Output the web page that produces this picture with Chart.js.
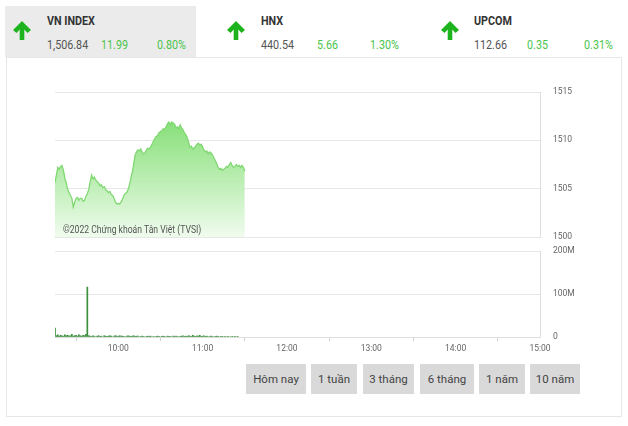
<!DOCTYPE html>
<html><head><meta charset="utf-8">
<script src="https://cdn.jsdelivr.net/npm/chart.js@4/dist/chart.umd.min.js"></script>
<style>
html,body{margin:0;padding:0;background:#fff;width:628px;height:426px;overflow:hidden;font-family:Roboto,sans-serif;}
.abs{position:absolute;}
.nar{transform:scaleX(0.86);transform-origin:0 0;white-space:nowrap;}
#tab{left:5px;top:6px;width:191px;height:51px;background:#ebebeb;}
.name{font-weight:bold;font-size:12.5px;color:#333;}
.val{font-size:12.5px;color:#555;}
.g{font-size:12.5px;color:#4cc44c;}
#panel{left:6px;top:57px;width:616px;height:360px;border:1px solid #e6e6e6;box-sizing:border-box;}
.btn{top:364px;height:30px;background:#d9d9d9;color:#444;font-size:11.5px;line-height:30px;text-align:center;}
#wm{left:63px;top:224px;font-size:10px;color:#555;}
</style></head><body>
<div id="tab" class="abs"></div>
<div id="panel" class="abs"></div>
<div id="hdr"></div>
<canvas id="c1" class="abs" style="left:55px;top:86px;width:545px;height:157px" width="545" height="157"></canvas>
<canvas id="c2" class="abs" style="left:55px;top:245px;width:545px;height:114px" width="545" height="114"></canvas>
<div id="wm" class="abs nar">©2022 Chứng khoán Tân Việt (TVSI)</div>
<div id="btns"></div>
<script>
// ---- data ----
const indexNames = ["VN INDEX", "HNX", "UPCOM"];
const indexValues = ["1,506.84", "440.54", "112.66"];
const indexChanges = ["11.99", "5.66", "0.35"];
const indexPercents = ["0.80%", "1.30%", "0.31%"];
const rangeButtons = ["Hôm nay", "1 tuần", "3 tháng", "6 tháng", "1 năm", "10 năm"];
const startMinute = 555; // 9:15
const priceValues = [
1505.6,1506.4,1507.2,1507.0,1507.3,1507.4,1506.9,1506.1,1505.6,1504.9,
1504.6,1504.3,1504.0,1503.1,1503.6,1504.0,1504.1,1503.8,1504.0,1504.0,
1503.7,1503.8,1504.2,1504.5,1504.9,1505.7,1506.4,1506.0,1506.2,1505.9,
1505.7,1505.6,1505.3,1505.4,1505.1,1505.2,1504.9,1504.8,1504.6,1504.7,
1504.4,1504.3,1504.0,1503.6,1503.4,1503.5,1503.4,1503.6,1503.9,1504.3,
1504.5,1504.6,1504.9,1505.4,1506.1,1506.7,1507.6,1508.5,1508.8,1509.0,
1508.9,1509.1,1508.8,1508.6,1508.7,1509.0,1509.2,1509.1,1509.3,1509.6,
1509.9,1510.2,1510.4,1510.5,1510.8,1510.9,1511.0,1511.2,1511.1,1511.4,
1511.7,1511.9,1511.6,1511.9,1511.8,1511.7,1511.3,1511.4,1511.2,1511.6,
1511.3,1511.1,1510.8,1510.6,1510.3,1509.8,1509.3,1509.4,1509.1,1509.2,
1509.4,1509.6,1509.7,1509.5,1509.6,1509.3,1509.0,1508.8,1508.9,1508.6,
1508.8,1508.7,1508.5,1508.2,1507.9,1507.6,1507.2,1507.0,1507.1,1506.9,
1507.0,1507.1,1507.3,1507.2,1507.5,1507.7,1507.4,1507.2,1507.3,1507.5,
1507.3,1507.4,1507.2,1507.4,1507.2,1506.8];
const volumeMillions = [
21,3,5,2,4,3,2,5,3,4,2,3,6,2,3,4,2,5,3,2,4,3,6,116,3,
2,1,3,2,0,2,3,1,2,0,3,2,1,2,3,2,0,2,3,2,1,3,2,2,1,
0,2,3,2,1,2,3,1,2,2,0,1,2,1,0,1,2,1,2,0,1,0,1,2,1,
0,1,2,1,0,2,1,1,0,2,1,2,1,0,1,2,3,1,2,1,3,2,1,4,2,
1,3,2,4,1,2,3,1,2,0,1,2,1,0,1,2,1,0,1,1,0,1,0,1,0,
0,1,0,1,0,1];
const priceTicks = [1500, 1505, 1510, 1515];
const volumeTicks = [0, 100e6, 200e6];
const timeTicks = [600, 660, 720, 780, 840, 900];

// ---- header ----
const hdr = document.getElementById('hdr');
const colX = [[12,47,101,157],[226,261,317,370],[440,474,527,584]];
indexNames.forEach((n,i)=>{
  const c = colX[i];
  hdr.insertAdjacentHTML('beforeend',
   `<svg class="abs" style="left:${c[0]}px;top:20px" width="20" height="21" viewBox="0 0 20 21"><path d="M10 1 L19 10 L15.5 13 L12.3 9.6 L12.3 20 L7.7 20 L7.7 9.6 L4.5 13 L1 10 Z" fill="#1db31d"/></svg>
    <div class="abs name nar" style="left:${c[1]}px;top:13px">${n}</div>
    <div class="abs val nar" style="left:${c[1]}px;top:37px">${indexValues[i]}</div>
    <div class="abs g nar" style="left:${c[2]}px;top:37px">${indexChanges[i]}</div>
    <div class="abs g nar" style="left:${c[3]}px;top:37px">${indexPercents[i]}</div>`);
});
const btnPos = [[246,60],[311,46],[363,51],[420,54],[479,46],[530,50]];
const btns = document.getElementById('btns');
rangeButtons.forEach((b,i)=>{
  btns.insertAdjacentHTML('beforeend', `<div class="abs btn" style="left:${btnPos[i][0]}px;width:${btnPos[i][1]}px">${b}</div>`);
});

// ---- charts ----
const pricePts = priceValues.map((v,i)=>({x:startMinute+i, y:v}));
const volPts = volumeMillions.map((v,i)=>({x:startMinute+i, y:v*1e6}));
const fmtTime = v => String(Math.floor(v/60)).padStart(2,'0') + ':' + String(v%60).padStart(2,'0');
const gridCol = '#e6e6e6';
const tickFont = {family:'Roboto', size:8.5};

new Chart(document.getElementById('c1'), {
  type:'line',
  data:{datasets:[{data:pricePts, borderColor:'#80d872', borderWidth:1.3, pointRadius:0, tension:0, fill:'start',
    backgroundColor:(ctx)=>{
      const ca = ctx.chart.chartArea; if(!ca) return 'rgba(140,220,130,0.6)';
      const g = ctx.chart.ctx.createLinearGradient(0, ca.top+30, 0, ca.bottom);
      g.addColorStop(0,'rgba(130,222,115,0.95)');
      g.addColorStop(1,'rgba(240,252,238,1)');
      return g;
    }}]},
  options:{responsive:false, animation:false, events:[],
    layout:{padding:{top:6,bottom:6,left:0,right:0}},
    plugins:{legend:{display:false},tooltip:{enabled:false}},
    scales:{
      x:{type:'linear', min:555, max:900, display:false},
      y:{position:'right', min:1500, max:1515,
        afterFit:s=>{s.width=60;},
        afterBuildTicks:s=>{s.ticks = priceTicks.map(v=>({value:v}));},
        grid:{color:gridCol, drawTicks:true, tickLength:13, tickColor:'rgba(0,0,0,0)'},
        border:{display:true, color:'#dedede'},
        ticks:{padding:0, color:'#666', font:tickFont, callback:v=>String(v)}}
    }}
});

new Chart(document.getElementById('c2'), {
  type:'bar',
  data:{datasets:[{data:volPts, backgroundColor:'#3c8f3c', barThickness:1}]},
  options:{responsive:false, animation:false, events:[],
    layout:{padding:{top:6,bottom:0,left:0,right:0}},
    plugins:{legend:{display:false},tooltip:{enabled:false}},
    scales:{
      x:{type:'linear', min:555, max:900, offset:false,
        afterFit:s=>{s.height=22;},
        afterBuildTicks:s=>{s.ticks = timeTicks.map(v=>({value:v}));},
        grid:{drawOnChartArea:false, tickLength:4, color:'#cfcfcf'},
        border:{display:true, color:'#dedede'},
        ticks:{padding:3, color:'#666', font:tickFont, maxRotation:0, callback:v=>fmtTime(v)}},
      y:{position:'right', min:0, max:200e6,
        afterFit:s=>{s.width=60;},
        afterBuildTicks:s=>{s.ticks = volumeTicks.map(v=>({value:v}));},
        grid:{color:gridCol, drawTicks:true, tickLength:13, tickColor:'rgba(0,0,0,0)'},
        border:{display:true, color:'#dedede'},
        ticks:{padding:0, color:'#666', font:tickFont, callback:v=> v===0?'0':(v/1e6)+'M'}}
    }}
});
</script>
</body></html>
